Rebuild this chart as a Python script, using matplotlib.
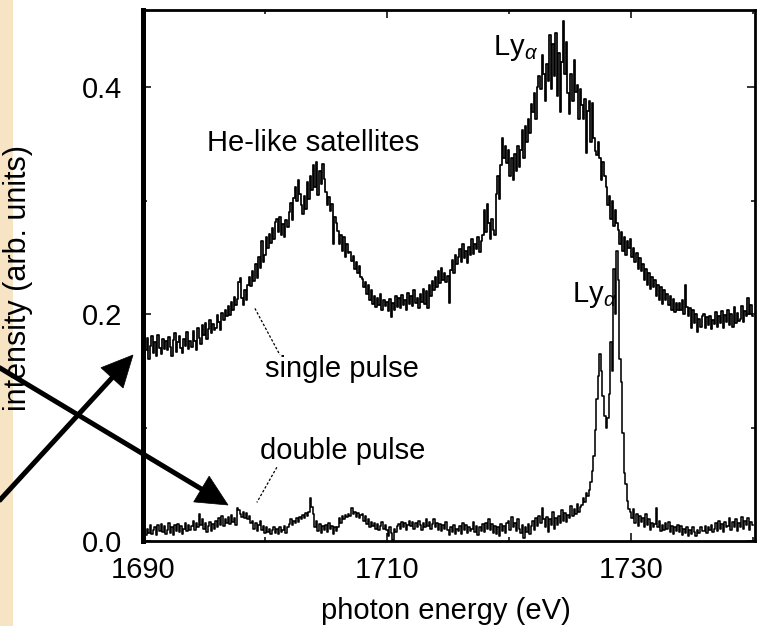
import numpy as np
import matplotlib
matplotlib.use("Agg")
import matplotlib.pyplot as plt
from matplotlib import transforms as mtransforms
from matplotlib.lines import Line2D
from matplotlib.patches import Polygon, Rectangle

plt.rcParams['font.family'] = ['Liberation Sans', 'DejaVu Sans']
plt.rcParams['mathtext.fontset'] = 'custom'
plt.rcParams['mathtext.rm'] = 'Liberation Sans'
plt.rcParams['mathtext.it'] = 'Liberation Sans:italic'

# spectra sampled every 0.125 eV starting at 1690 eV (one row per eV)
E_START = 1690.0
E_STEP = 0.125

single_pulse = [
    0.162, 0.176, 0.168, 0.179, 0.160, 0.172, 0.181, 0.166,   # 1690
    0.175, 0.163, 0.182, 0.170, 0.165, 0.178, 0.169, 0.176,   # 1691
    0.168, 0.180, 0.171, 0.163, 0.177, 0.183, 0.167, 0.175,   # 1692
    0.181, 0.170, 0.166, 0.178, 0.172, 0.184, 0.169, 0.176,   # 1693
    0.171, 0.185, 0.176, 0.168, 0.188, 0.179, 0.174, 0.190,   # 1694
    0.182, 0.192, 0.178, 0.187, 0.195, 0.183, 0.191, 0.186,   # 1695
    0.188, 0.199, 0.193, 0.186, 0.201, 0.195, 0.204, 0.198,   # 1696
    0.207, 0.199, 0.211, 0.204, 0.215, 0.208, 0.213, 0.228,   # 1697
    0.232, 0.214, 0.208, 0.221, 0.212, 0.226, 0.233, 0.225,   # 1698
    0.238, 0.229, 0.244, 0.232, 0.250, 0.241, 0.264, 0.246,   # 1699
    0.252, 0.268, 0.258, 0.271, 0.263, 0.276, 0.266, 0.281,   # 1700
    0.284, 0.272, 0.286, 0.270, 0.279, 0.268, 0.283, 0.277,   # 1701
    0.290, 0.298, 0.283, 0.302, 0.312, 0.300, 0.318, 0.306,   # 1702
    0.296, 0.288, 0.304, 0.293, 0.316, 0.301, 0.322, 0.309,   # 1703
    0.331, 0.312, 0.334, 0.305, 0.326, 0.315, 0.332, 0.319,   # 1704
    0.308, 0.296, 0.303, 0.291, 0.297, 0.262, 0.286, 0.280,   # 1705
    0.273, 0.262, 0.270, 0.256, 0.268, 0.250, 0.262, 0.254,   # 1706
    0.255, 0.247, 0.251, 0.240, 0.246, 0.236, 0.242, 0.233,   # 1707
    0.231, 0.224, 0.228, 0.218, 0.226, 0.212, 0.221, 0.209,   # 1708
    0.216, 0.206, 0.214, 0.208, 0.218, 0.204, 0.212, 0.207,   # 1709
    0.211, 0.203, 0.213, 0.197, 0.210, 0.204, 0.216, 0.206,   # 1710
    0.214, 0.205, 0.217, 0.208, 0.212, 0.204, 0.219, 0.209,   # 1711
    0.216, 0.207, 0.221, 0.210, 0.214, 0.205, 0.218, 0.211,   # 1712
    0.222, 0.209, 0.220, 0.205, 0.226, 0.216, 0.229, 0.221,   # 1713
    0.233, 0.224, 0.238, 0.227, 0.241, 0.230, 0.236, 0.228,   # 1714
    0.234, 0.210, 0.239, 0.248, 0.236, 0.252, 0.244, 0.250,   # 1715
    0.257, 0.246, 0.262, 0.249, 0.256, 0.245, 0.259, 0.252,   # 1716
    0.266, 0.253, 0.262, 0.257, 0.268, 0.255, 0.264, 0.270,   # 1717
    0.292, 0.272, 0.297, 0.280, 0.266, 0.284, 0.274, 0.270,   # 1718
    0.306, 0.322, 0.301, 0.331, 0.355, 0.338, 0.348, 0.333,   # 1719
    0.345, 0.322, 0.338, 0.318, 0.341, 0.326, 0.348, 0.330,   # 1720
    0.345, 0.362, 0.338, 0.366, 0.352, 0.372, 0.360, 0.385,   # 1721
    0.378, 0.395, 0.372, 0.400, 0.410, 0.398, 0.428, 0.412,   # 1722
    0.388, 0.420, 0.405, 0.446, 0.398, 0.438, 0.410, 0.448,   # 1723
    0.392, 0.430, 0.378, 0.422, 0.458, 0.412, 0.440, 0.395,   # 1724
    0.376, 0.412, 0.388, 0.424, 0.396, 0.402, 0.372, 0.398,   # 1725
    0.384, 0.372, 0.390, 0.342, 0.379, 0.388, 0.352, 0.386,   # 1726
    0.355, 0.344, 0.340, 0.352, 0.338, 0.318, 0.334, 0.322,   # 1727
    0.312, 0.296, 0.304, 0.284, 0.300, 0.278, 0.292, 0.280,   # 1728
    0.274, 0.262, 0.272, 0.256, 0.268, 0.252, 0.264, 0.258,   # 1729
    0.266, 0.250, 0.258, 0.246, 0.254, 0.240, 0.249, 0.238,   # 1730
    0.244, 0.230, 0.240, 0.226, 0.236, 0.222, 0.233, 0.224,   # 1731
    0.230, 0.216, 0.226, 0.212, 0.224, 0.209, 0.221, 0.212,   # 1732
    0.218, 0.208, 0.216, 0.204, 0.213, 0.202, 0.210, 0.204,   # 1733
    0.210, 0.204, 0.212, 0.200, 0.226, 0.206, 0.198, 0.205,   # 1734
    0.188, 0.204, 0.192, 0.200, 0.184, 0.196, 0.189, 0.198,   # 1735
    0.200, 0.188, 0.197, 0.190, 0.198, 0.187, 0.195, 0.191,   # 1736
    0.202, 0.189, 0.198, 0.192, 0.203, 0.188, 0.199, 0.193,   # 1737
    0.204, 0.190, 0.200, 0.189, 0.206, 0.192, 0.201, 0.194,   # 1738
    0.196, 0.207, 0.193, 0.203, 0.198, 0.214, 0.200, 0.208,   # 1739
    0.198,                                                    # 1740
]

double_pulse = [
    0.008, 0.013, 0.005, 0.011, 0.007, 0.014, 0.006, 0.010,   # 1690
    0.012, 0.005, 0.014, 0.009, 0.015, 0.008, 0.013, 0.006,   # 1691
    0.010, 0.016, 0.007, 0.012, 0.005, 0.014, 0.009, 0.015,   # 1692
    0.008, 0.013, 0.006, 0.011, 0.016, 0.009, 0.014, 0.010,   # 1693
    0.013, 0.018, 0.010, 0.016, 0.012, 0.024, 0.014, 0.019,   # 1694
    0.011, 0.016, 0.008, 0.013, 0.017, 0.009, 0.015, 0.011,   # 1695
    0.018, 0.012, 0.020, 0.014, 0.022, 0.013, 0.019, 0.016,   # 1696
    0.021, 0.015, 0.023, 0.017, 0.020, 0.014, 0.029, 0.027,   # 1697
    0.024, 0.021, 0.026, 0.020, 0.025, 0.019, 0.022, 0.016,   # 1698
    0.018, 0.011, 0.016, 0.009, 0.014, 0.018, 0.010, 0.013,   # 1699
    0.007, 0.012, 0.008, 0.011, 0.006, 0.010, 0.012, 0.007,   # 1700
    0.011, 0.006, 0.012, 0.008, 0.010, 0.013, 0.007, 0.012,   # 1701
    0.015, 0.019, 0.014, 0.018, 0.016, 0.020, 0.017, 0.021,   # 1702
    0.019, 0.023, 0.020, 0.025, 0.022, 0.026, 0.038, 0.030,   # 1703
    0.024, 0.012, 0.018, 0.009, 0.015, 0.007, 0.013, 0.010,   # 1704
    0.014, 0.008, 0.016, 0.011, 0.013, 0.006, 0.012, 0.009,   # 1705
    0.012, 0.020, 0.016, 0.022, 0.019, 0.023, 0.021, 0.024,   # 1706
    0.022, 0.029, 0.024, 0.026, 0.021, 0.025, 0.020, 0.023,   # 1707
    0.024, 0.018, 0.022, 0.015, 0.019, 0.012, 0.017, 0.013,   # 1708
    0.016, 0.011, 0.015, 0.010, 0.013, 0.017, 0.011, 0.014,   # 1709
    0.010, 0.004, 0.012, 0.007, 0.001, 0.011, 0.008, 0.013,   # 1710
    0.015, 0.011, 0.017, 0.012, 0.016, 0.010, 0.014, 0.018,   # 1711
    0.013, 0.017, 0.011, 0.016, 0.012, 0.018, 0.014, 0.010,   # 1712
    0.016, 0.012, 0.019, 0.013, 0.017, 0.011, 0.015, 0.019,   # 1713
    0.012, 0.016, 0.010, 0.015, 0.009, 0.014, 0.011, 0.017,   # 1714
    0.010, 0.005, 0.012, 0.008, 0.014, 0.006, 0.011, 0.009,   # 1715
    0.013, 0.006, 0.016, 0.010, 0.014, 0.007, 0.012, 0.009,   # 1716
    0.011, 0.017, 0.008, 0.013, 0.005, 0.012, 0.009, 0.015,   # 1717
    0.008, 0.016, 0.011, 0.019, 0.010, 0.015, 0.007, 0.013,   # 1718
    0.006, 0.012, 0.004, 0.015, 0.009, 0.013, 0.007, 0.016,   # 1719
    0.018, 0.010, 0.021, 0.012, 0.016, 0.009, 0.019, 0.011,   # 1720
    0.007, 0.014, 0.003, 0.012, 0.008, 0.015, 0.006, 0.013,   # 1721
    0.018, 0.010, 0.020, 0.013, 0.022, 0.016, 0.029, 0.019,   # 1722
    0.012, 0.021, 0.008, 0.019, 0.014, 0.026, 0.011, 0.020,   # 1723
    0.014, 0.022, 0.016, 0.027, 0.018, 0.025, 0.017, 0.023,   # 1724
    0.020, 0.031, 0.022, 0.028, 0.024, 0.033, 0.026, 0.030,   # 1725
    0.032, 0.038, 0.034, 0.042, 0.040, 0.045, 0.052, 0.062,   # 1726
    0.075, 0.098, 0.125, 0.145, 0.165, 0.150, 0.128, 0.110,   # 1727
    0.100, 0.108, 0.130, 0.175, 0.150, 0.240, 0.200, 0.256,   # 1728
    0.230, 0.160, 0.140, 0.095, 0.060, 0.050, 0.035, 0.028,   # 1729
    0.026, 0.020, 0.028, 0.016, 0.024, 0.013, 0.022, 0.017,   # 1730
    0.020, 0.012, 0.024, 0.014, 0.019, 0.010, 0.016, 0.012,   # 1731
    0.015, 0.029, 0.012, 0.018, 0.009, 0.014, 0.010, 0.016,   # 1732
    0.011, 0.017, 0.008, 0.013, 0.006, 0.012, 0.009, 0.014,   # 1733
    0.008, 0.013, 0.005, 0.011, 0.007, 0.012, 0.004, 0.010,   # 1734
    0.006, 0.012, 0.008, 0.004, 0.010, 0.007, 0.012, 0.009,   # 1735
    0.009, 0.013, 0.007, 0.012, 0.010, 0.014, 0.008, 0.011,   # 1736
    0.016, 0.009, 0.018, 0.011, 0.015, 0.008, 0.017, 0.012,   # 1737
    0.013, 0.020, 0.010, 0.017, 0.012, 0.019, 0.009, 0.016,   # 1738
    0.012, 0.021, 0.011, 0.018, 0.014, 0.020, 0.010, 0.017,   # 1739
    0.014,                                                    # 1740
]

x_major = [1690, 1710, 1730]
x_minor = [1700, 1720, 1740]
y_major = [0.0, 0.2, 0.4]
y_major_labels = ["0.0", "0.2", "0.4"]
y_minor = [0.1, 0.3]

energy = E_START + E_STEP * np.arange(len(single_pulse))

W, H = 762, 626
fig = plt.figure(figsize=(W / 100, H / 100), dpi=100)
fig.patch.set_facecolor("white")

# pixel-space transform (origin top-left) for decorations outside the axes
pix = mtransforms.Affine2D().scale(1 / W, -1 / H).translate(0, 1) + fig.transFigure

# parchment strip along the left edge
fig.add_artist(Rectangle((0, 0), 13, H, transform=pix, facecolor="#F6E4C4",
                         edgecolor="none", zorder=0))

ax = fig.add_axes([143 / W, 1 - 541 / H, 612 / W, 531 / H])
ax.set_facecolor("white")

ax.plot(energy, single_pulse, drawstyle="steps-mid", color="black", lw=1.25)
ax.plot(energy, double_pulse, drawstyle="steps-mid", color="black", lw=1.15)

ax.set_xlim(1690, 1740.2)
ax.set_ylim(0, 0.468)
ax.set_xticks(x_major)
ax.set_xticks(x_minor, minor=True)
ax.set_yticks(y_major)
ax.set_yticklabels(y_major_labels)
ax.set_yticks(y_minor, minor=True)

ax.tick_params(which="both", direction="in", top=True, right=True,
               width=1.1, color="black", labelsize=21)
ax.tick_params(which="major", length=6)
ax.tick_params(which="minor", length=3)
ax.tick_params(axis="y", pad=15)
ax.tick_params(axis="x", pad=11)

for side, lw in [("left", 3.6), ("bottom", 2.0), ("top", 2.0), ("right", 2.0)]:
    ax.spines[side].set_linewidth(lw)
    ax.spines[side].set_color("black")

ax.set_xlabel("photon energy (eV)", fontsize=21)
ax.xaxis.set_label_coords(0.495, -0.1055)
ax.set_ylabel("intensity (arb. units)", fontsize=22)
ax.yaxis.set_label_coords(-0.1797, 0.495)

txt = dict(fontsize=21, ha="left", va="baseline", color="black")
ax.text(1695.25, 0.3436, "He-like satellites", **txt)
ax.text(1718.7, 0.428, r"Ly$_{\alpha}$", **txt)
ax.text(1725.16, 0.2106, r"Ly$_{\alpha}$", **txt)
ax.text(1700.0, 0.1445, "single pulse", **txt)
ax.text(1699.6, 0.0722, "double pulse", **txt)

# dashed leader lines from the labels to the spectra
lead = dict(color="black", lw=0.9, ls=(0, (2, 1.5)))
ax.plot([1699.18, 1701.23], [0.205, 0.164], **lead)
ax.plot([1700.98, 1699.34], [0.065, 0.034], **lead)


def big_arrow(tail, tip, shaft=5.0, head_len=31.0, head_half=15.0):
    t = np.asarray(tail, float)
    p = np.asarray(tip, float)
    u = (p - t) / np.hypot(*(p - t))
    n = np.array([-u[1], u[0]])
    base = p - u * head_len
    end = base + u * 2
    fig.add_artist(Line2D([t[0], end[0]], [t[1], end[1]], transform=pix,
                          color="black", lw=shaft * 72 / 100,
                          solid_capstyle="butt", zorder=5))
    fig.add_artist(Polygon([p, base + n * head_half, base - n * head_half],
                           closed=True, transform=pix, facecolor="black",
                           edgecolor="black", lw=0.5, zorder=5))


big_arrow((-6, 506.5), (133, 355))
big_arrow((-6, 364.4), (228, 505))

fig.savefig("out.png", dpi=100, facecolor=fig.get_facecolor())
